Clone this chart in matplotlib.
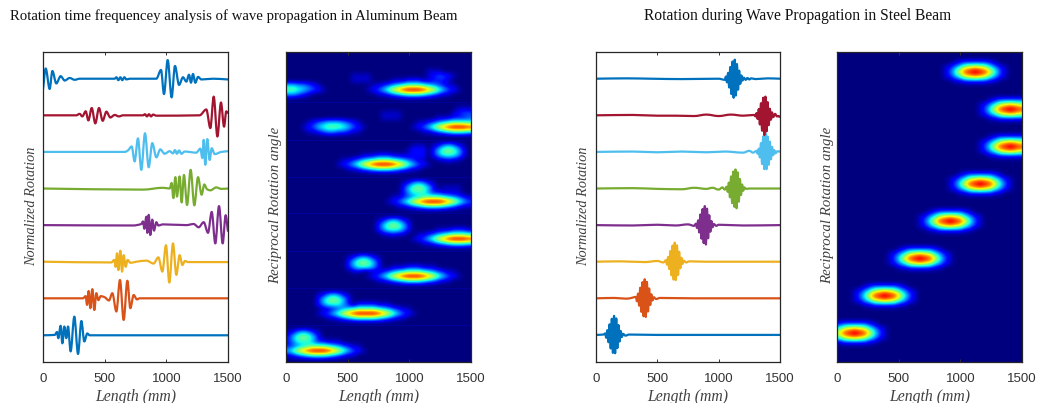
import numpy as np
import matplotlib
matplotlib.use("Agg")
import matplotlib.pyplot as plt
from matplotlib.path import Path
from matplotlib.patches import PathPatch

W, H = 1038, 403
TITLE_AL = "Rotation time frequencey analysis of wave propagation in Aluminum Beam"
TITLE_ST = "Rotation during Wave Propagation in Steel Beam"
XLABEL = "Length (mm)"
YLABEL_WAVE = "Normalized Rotation"
YLABEL_MAP = "Reciprocal Rotation angle"
XTICKS = [0, 500, 1000, 1500]
COLORS = ["#0072BD", "#D95319", "#EDB120", "#7E2F8E", "#77AC30", "#4DBEEE", "#A2142F", "#0072BD"]

# Aluminium traces, bottom (1) to top (8): position in mm, normalised rotation
A1_X = [0,95,114,124,143,157,173,189,203,224,254,284,311,335,359,378,1500]
A1_Y = [-.01,0,.08,-.09,.25,-.23,.23,-.09,.23,-.45,.5,-.52,.38,-.18,.04,-.01,-.01]
A2_X = [0,324,346,357,370,384,400,416,432,449,468,500,535,562,595,624,654,684,708,735,762,784,1500]
A2_Y = [0,0,.06,-.18,.2,-.27,.25,-.32,.14,-.05,.06,.03,-.06,.14,-.36,.5,-.59,.48,-.27,.09,-.03,0,0]
A3_X = [0,554,578,589,600,611,627,641,654,670,686,708,757,838,897,935,968,997,1024,1054,1081,1108,1130,1151,1176,1500]
A3_Y = [0,-.02,.05,-.14,.23,-.23,.3,-.27,.18,-.14,.05,-.03,0,.03,-.05,.12,-.27,.45,-.57,.5,-.36,.18,-.09,.02,-.01,-.01]
A4_X = [0,730,797,811,822,838,846,857,870,886,900,919,935,973,1162,1222,1262,1303,1338,1368,1397,1427,1457,1481,1500]
A4_Y = [0,-.01,.03,.1,-.1,.23,-.21,.28,-.27,.15,-.15,.08,-.01,.02,0,.03,-.06,.08,-.21,.36,-.5,.52,-.5,.27,-.18]
A5_X = [0,811,973,1027,1043,1057,1073,1086,1108,1124,1143,1168,1197,1227,1257,1286,1308,1330,1357,1405,1446,1500]
A5_Y = [0,-.03,.02,0,.15,-.26,.31,-.22,.33,-.38,.37,-.45,.51,-.46,.31,-.17,.11,-.02,-.05,.03,-.01,0]
A6_X = [0,662,689,719,743,770,797,827,857,886,919,951,986,1027,1054,1070,1086,1103,1122,1149,1243,1276,1292,1303,1316,1332,1351,1368,1392,1446,1500]
A6_Y = [0,0,.04,.15,-.26,.37,-.49,.51,-.42,.24,-.15,.07,-.05,.02,-.04,.05,-.05,.04,-.05,.01,-.02,.09,-.17,.33,-.35,.35,-.22,.1,-.06,0,.02]
A7_X = [0,270,297,319,346,368,395,424,454,484,514,546,581,616,649,811,827,843,859,876,892,919,1270,1324,1357,1384,1414,1443,1468,1486,1500]
A7_Y = [0,0,.04,-.03,.11,-.14,.2,-.22,.2,-.15,.1,-.06,.01,-.03,0,0,.03,-.03,.03,-.03,.02,-.01,0,.16,-.35,.51,-.58,.35,-.31,.11,.05]
A8_X = [0,22,54,76,108,143,176,216,257,297,581,595,611,627,643,660,676,703,919,957,981,1011,1043,1070,1103,1135,1162,1184,1200,1216,1235,1257,1284,1378,1500]
A8_Y = [-.29,.28,-.28,.21,-.13,.07,-.05,.02,-.03,0,0,.04,-.04,.04,-.04,.04,-.02,0,0,.24,-.42,.51,-.51,.35,-.17,.04,-.08,.11,-.11,.13,-.11,.05,-.02,0,-.02]

# Steel traces, bottom (1) to top (8)
S1_X = [0,60,75,84,93,102,111,120,129,138,147,156,165,174,183,192,201,210,220,240,270,500,1500]
S1_Y = [0,.01,.04,-.08,.13,-.2,.29,-.37,.44,-.49,.52,-.5,.45,-.36,.27,-.18,.11,-.06,.03,-.02,.01,0,0]
S2_X = [0,150,250,300,325,334,343,352,361,370,379,388,397,406,415,424,433,442,451,460,470,490,520,800,1500]
S2_Y = [0,.01,-.01,.02,.04,-.08,.13,-.2,.29,-.37,.44,-.49,.52,-.51,.45,-.36,.27,-.18,.11,-.06,.03,-.02,.01,0,0]
S3_X = [0,200,400,500,550,570,579,588,597,606,615,624,633,642,651,660,669,678,687,696,705,715,735,760,900,1200,1500]
S3_Y = [0,.01,-.01,.02,-.02,.04,-.08,.13,-.2,.29,-.37,.44,-.49,.52,-.5,.45,-.36,.27,-.18,.11,-.06,.03,-.02,.01,0,0,0]
S4_X = [0,300,500,650,750,800,815,824,833,842,851,860,869,878,887,896,905,914,923,932,941,950,960,980,1000,1200,1500]
S4_Y = [0,-.01,.01,-.01,.02,-.02,.04,-.08,.13,-.2,.29,-.37,.44,-.49,.52,-.53,.45,-.36,.27,-.18,.11,-.06,.03,-.02,.01,-.01,0]
S5_X = [0,300,500,700,800,900,950,1000,1030,1050,1065,1074,1083,1092,1101,1110,1119,1128,1137,1146,1155,1164,1173,1182,1191,1200,1209,1225,1250,1500]
S5_Y = [0,.01,-.01,-.02,.02,-.01,.02,-.03,.03,-.03,.05,-.09,.16,-.24,.33,-.4,.46,-.5,.52,-.54,.44,-.36,.26,-.18,.11,-.06,.03,-.01,0,0]
S6_X = [0,300,500,700,900,1050,1200,1250,1280,1310,1318,1327,1336,1345,1354,1363,1372,1381,1390,1399,1408,1417,1426,1435,1444,1453,1462,1480,1500]
S6_Y = [0,.01,-.01,.01,-.01,.01,-.02,.03,-.02,.03,-.05,.09,-.15,.24,-.33,.42,-.47,.51,-.47,.42,-.35,.28,-.2,.14,-.09,.05,-.04,.02,0]
S7_X = [0,300,500,650,800,900,1000,1100,1200,1290,1300,1309,1318,1327,1336,1345,1354,1363,1372,1381,1390,1399,1408,1417,1426,1435,1444,1460,1475,1490,1500]
S7_Y = [0,.01,-.01,-.01,-.02,.02,-.02,.02,-.01,.01,-.03,.06,-.1,.17,-.25,.33,-.42,.48,-.54,.51,-.44,.36,-.27,.18,-.12,.08,-.05,.04,-.03,-.02,-.06]
S8_X = [0,250,450,700,1000,1050,1059,1068,1077,1086,1095,1104,1113,1122,1131,1140,1149,1158,1167,1176,1185,1194,1205,1220,1235,1250,1265,1300,1400,1500]
S8_Y = [0,.01,0,-.01,0,-.03,.06,-.1,.16,-.24,.32,-.42,.47,-.52,.52,-.46,.4,-.3,.22,-.14,.09,-.05,.03,-.03,.02,-.02,.01,-.01,.01,0]

ALU_TRACES = [(A1_X,A1_Y),(A2_X,A2_Y),(A3_X,A3_Y),(A4_X,A4_Y),(A5_X,A5_Y),(A6_X,A6_Y),(A7_X,A7_Y),(A8_X,A8_Y)]
STEEL_TRACES = [(S1_X,S1_Y),(S2_X,S2_Y),(S3_X,S3_Y),(S4_X,S4_Y),(S5_X,S5_Y),(S6_X,S6_Y),(S7_X,S7_Y),(S8_X,S8_Y)]

# Scalogram cells: one hex digit per cell (0 to f), rows top to bottom,
# 37 columns; trailing zero cells omitted.
ALU_MAP = [
"","","","",
"0000000000000000000000000000111",
"0000000000000111100000000000123321",
"0000000000000"+"1111"+"0000"+"111"+"222"+"1"+"12221",
"5544321"+"00000000"+"001123456777654321100",
"77654321"+"0000000"+"012357acefffeca753210",
"44321"+"0000000000"+"000112345666543211000",
"","",
"000000000000000000000000000000000"+"0111",
"0000000000000000000"+"1111"+"0000000000"+"1233",
"0000000000000000000"+"1111"+"0000000"+"111"+"2223",
"000"+"012345554321"+"000000000"+"0011234567776",
"000"+"12356777653210"+"0000000"+"012357acefffe",
"000"+"0112344332110"+"00000000"+"0001123456665",
"","",
"000000000000000000000000"+"0111"+"012454210",
"000000000000000000000000"+"1222"+"025787520",
"000000000000000"+"111222111"+"1222"+"024666420",
"000000000"+"001123456777654321100"+"1121100",
"000000000"+"012357acefffeca753210",
"000000000"+"000112345666543211000",
"","",
"0000000000000000000000"+"012454210",
"0000000000000000000000"+"025787520"+"1111",
"0000000000000000000000"+"024666422"+"1111",
"0000000000000000000"+"001123456777654321",
"0000000000000000000"+"012357acefffeca753",
"0000000000000000000"+"000112345666543211",
"","",
"00000000000000000"+"012454210",
"00000000000000000"+"025787520",
"00000000000000000"+"024666420"+"0000"+"1112221",
"00000000000000000"+"0011211"+"0011234567776",
"000000000000000000000000"+"012357acefffe",
"000000000000000000000000"+"0001123456665",
"","",
"00000000000"+"012454210",
"00000000000"+"025787520",
"00000000000"+"024666420"+"0"+"111222111",
"00000000000"+"0011"+"001123456777654321100",
"000000000000000"+"012357acefffeca753210",
"000000000000000"+"000112345666543211000",
"","",
"00000"+"012454210",
"00000"+"025787520",
"00000"+"024666420"+"2222111",
"00000"+"0011234567777654321100",
"00000"+"012357aceffffeca753210",
"00000"+"0001123456666543211000",
"","",
"12454210",
"25787520",
"24666422"+"111",
"23456777654321100",
"57acefffeca753210",
"12345666543211000",
"","",
]

STEEL_MAP = [
"","",
"000000000000000000000"+"0012333332100",
"000000000000000000000"+"12469aba96421",
"000000000000000000000"+"136adefeda631",
"000000000000000000000"+"12469aba96421",
"000000000000000000000"+"0011222221100",
"","","",
"0000000000000000000000000000"+"0012333332100",
"0000000000000000000000000000"+"12469aba96421",
"0000000000000000000000000000"+"136adefeda631",
"0000000000000000000000000000"+"12469aba96421",
"0000000000000000000000000000"+"0011222221100",
"","","",
"0000000000000000000000000000"+"0012333332100",
"0000000000000000000000000000"+"12469aba96421",
"0000000000000000000000000000"+"136adefeda631",
"0000000000000000000000000000"+"12469aba96421",
"0000000000000000000000000000"+"0011222221100",
"","","",
"0000000000000000000000"+"0012333332100",
"0000000000000000000000"+"12469aba96421",
"0000000000000000000000"+"136adefeda631",
"0000000000000000000000"+"12469aba96421",
"0000000000000000000000"+"0011222221100",
"","","",
"0000000000000000"+"0012333332100",
"0000000000000000"+"12469aba96421",
"0000000000000000"+"136adefeda631",
"0000000000000000"+"12469aba96421",
"0000000000000000"+"0011222221100",
"","","",
"0000000000"+"0012333332100",
"0000000000"+"12469aba96421",
"0000000000"+"136adefeda631",
"0000000000"+"12469aba96421",
"0000000000"+"0011222221100",
"","","",
"000"+"0012333332100",
"000"+"12469aba96421",
"000"+"136adefeda631",
"000"+"12469aba96421",
"000"+"0011222221100",
"","","",
"2333332100",
"69aba96421",
"adefeda631",
"69aba96421",
"1222221100",
"","","","","","",
]

ALU_SEAMS = [10.65, 18.65, 26.6, 34.5, 42.5, 50.5, 58.4]


def grid(rows, ncols=37):
    return np.array([[int(c, 16) / 15 for c in r.ljust(ncols, "0")[:ncols]] for r in rows])


plt.rcParams["font.family"] = ["Liberation Serif", "DejaVu Serif"]
fig = plt.figure(figsize=(W / 100, H / 100), dpi=100, facecolor="white")


def make_axes(x0, x1, y0=52, y1=362):
    ax = fig.add_axes([x0 / W, 1 - y1 / H, (x1 - x0) / W, (y1 - y0) / H])
    ax.set_xlim(0, 1500)
    ax.set_xticks(XTICKS)
    ax.set_yticks([])
    ax.tick_params(axis="x", direction="in", top=True, length=2.5, width=0.7, pad=8,
                   labelsize=9.5, colors="#333333", labelfontfamily="Liberation Sans")
    for s in ax.spines.values():
        s.set_linewidth(0.9)
        s.set_color("#262626")
    return ax


def smooth_path(xs, ys):
    """Bezier path through the read points; flat tangents at the turning points."""
    x = np.asarray(xs, float)
    y = np.asarray(ys, float)
    s = np.diff(y) / np.diff(x)
    m = np.zeros_like(y)
    m[0], m[-1] = s[0], s[-1]
    same = s[:-1] * s[1:] > 0
    m[1:-1][same] = 2 * s[:-1][same] * s[1:][same] / (s[:-1][same] + s[1:][same])
    verts = [(x[0], y[0])]
    codes = [Path.MOVETO]
    for i in range(len(x) - 1):
        d = (x[i + 1] - x[i]) / 3
        verts += [(x[i] + d, y[i] + m[i] * d), (x[i + 1] - d, y[i + 1] - m[i + 1] * d), (x[i + 1], y[i + 1])]
        codes += [Path.CURVE4] * 3
    return Path(verts, codes)


def wave(x0, x1, traces, lw):
    ax = make_axes(x0, x1)
    ax.set_ylim(0.26, 8.73)
    for i, ((xs, ys), c) in enumerate(zip(traces, COLORS)):
        ax.add_patch(PathPatch(smooth_path(xs, np.array(ys) + i + 1), fc="none", ec=c, lw=lw,
                               joinstyle="round"))
    return ax


def heat(x0, x1, rows, ylim, seams=()):
    ax = make_axes(x0, x1)
    g = grid(rows)
    ax.imshow(g, cmap="jet", vmin=0, vmax=1, aspect="auto", interpolation="bicubic",
              extent=[0, 1500, len(rows) - 0.5, -0.5])
    for s in seams:
        ax.axhline(s, color=plt.get_cmap("jet")(0.025), lw=0.7)
    ax.set_xlim(0, 1500)
    ax.set_ylim(*ylim)
    return ax


wave(43, 228, ALU_TRACES, 1.6)
heat(286, 471, ALU_MAP, (66.4, -0.13), ALU_SEAMS)
wave(596, 780, STEEL_TRACES, 1.6)
heat(837, 1022, STEEL_MAP, (66.2, -0.29))

fig.text(233.5 / W, 1 - 20 / H, TITLE_AL, ha="center", va="baseline", fontsize=10.6, color="#111111")
fig.text(798 / W, 1 - 20 / H, TITLE_ST, ha="center", va="baseline", fontsize=11.2, color="#111111")
for cx in (136, 379, 688, 930):
    fig.text(cx / W, 1 - 401 / H, XLABEL, ha="center", va="baseline", fontsize=11.3,
             style="italic", color="#404040")
for x, s, cy, fs in ((32, YLABEL_WAVE, 206.5, 10.3), (276, YLABEL_MAP, 205, 10.7),
                     (584, YLABEL_WAVE, 206.5, 10.3), (828, YLABEL_MAP, 205, 10.7)):
    fig.text(x / W, 1 - cy / H, s, ha="center", va="center", rotation=90, fontsize=fs,
             style="italic", color="#404040")

fig.savefig("out.png", dpi=100)
